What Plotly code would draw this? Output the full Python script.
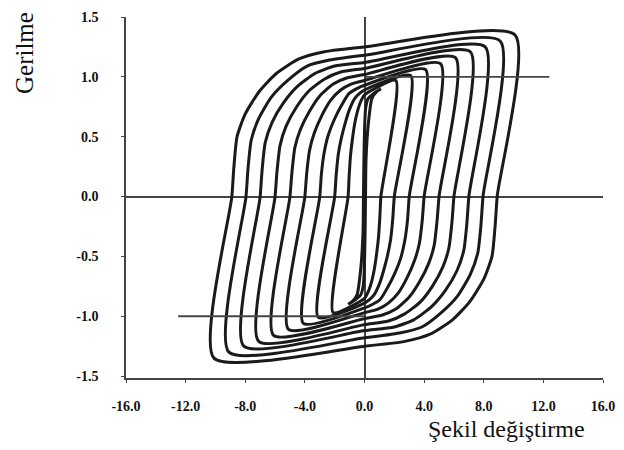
import plotly.graph_objects as go

# ---- axis ticks -------------------------------------------------------
x_tick_vals = [-16, -12, -8, -4, 0, 4, 8, 12, 16]
x_tick_text = ["-16.0", "-12.0", "-8.0", "-4.0", "0.0", "4.0", "8.0", "12.0", "16.0"]
y_tick_vals = [-1.5, -1.0, -0.5, 0.0, 0.5, 1.0, 1.5]
y_tick_text = ["-1.5", "-1.0", "-0.5", "0.0", "0.5", "1.0", "1.5"]

# ---- descending branches of the hysteresis loops (outer -> inner) ----
# each runs from the upper-right tip, along the top band, through the knee,
# across zero, down to the lower-left tip. Ascending branch = point mirror.
desc_x = [
    [10.1, 0.0, -2.7, -4.4, -5.9, -7.05, -8.0, -8.55, -8.76, -8.9, -10.1],
    [9.1, 0.0, -2.35, -3.85, -5.15, -6.25, -7.1, -7.6, -7.81, -7.95, -9.1],
    [8.1, 0.0, -2.0, -3.3, -4.5, -5.45, -6.2, -6.66, -6.87, -7.0, -8.1],
    [7.1, 0.0, -1.6, -2.7, -3.75, -4.55, -5.25, -5.66, -5.87, -6.0, -7.1],
    [6.1, 0.0, -1.2, -2.1, -3.0, -3.7, -4.3, -4.67, -4.87, -5.0, -6.1],
    [5.1, 0.0, -0.9, -1.6, -2.3, -2.85, -3.37, -3.68, -3.88, -4.0, -5.1],
    [4.1, 0.0, -0.55, -1.05, -1.55, -2.0, -2.44, -2.7, -2.89, -3.0, -4.1],
    [3.1, 0.0, -0.35, -0.65, -1.0, -1.28, -1.55, -1.75, -1.9, -2.0, -3.1],
    [2.1, 0.0, -0.15, -0.3, -0.5, -0.67, -0.82, -0.94, -1.03, -1.1, -2.1],
    [1.1, 0.6, 0.25, 0.08, 0.0, -0.04, -0.07, -0.1, -0.25, -0.5, -0.85, -1.1],
]
desc_y = [
    [1.35, 1.25, 1.21, 1.15, 1.03, 0.88, 0.69, 0.50, 0.25, 0.0, -1.35],
    [1.30, 1.18, 1.14, 1.09, 0.97, 0.83, 0.65, 0.47, 0.24, 0.0, -1.30],
    [1.25, 1.12, 1.09, 1.03, 0.92, 0.78, 0.62, 0.45, 0.22, 0.0, -1.25],
    [1.21, 1.07, 1.04, 0.98, 0.88, 0.75, 0.59, 0.43, 0.21, 0.0, -1.21],
    [1.16, 1.02, 0.99, 0.94, 0.84, 0.71, 0.56, 0.41, 0.20, 0.0, -1.16],
    [1.11, 0.97, 0.94, 0.89, 0.80, 0.68, 0.53, 0.39, 0.19, 0.0, -1.11],
    [1.06, 0.93, 0.90, 0.86, 0.76, 0.65, 0.51, 0.37, 0.19, 0.0, -1.06],
    [1.01, 0.89, 0.86, 0.82, 0.73, 0.62, 0.49, 0.36, 0.18, 0.0, -1.01],
    [0.97, 0.85, 0.82, 0.78, 0.70, 0.60, 0.47, 0.34, 0.17, 0.0, -0.97],
    [0.90, 0.86, 0.82, 0.74, 0.55, 0.30, 0.0, -0.30, -0.60, -0.82, -0.88, -0.90],
]

# ---- reference lines at +/-1.0 ----------------------------------------
ref_hi_x = [0.0, 12.4]
ref_hi_y = [1.0, 1.0]
ref_lo_x = [-12.5, 0.0]
ref_lo_y = [-1.0, -1.0]

INK = "#1a1a1a"
AXC = "#444444"
SERIF = "Liberation Serif"

# page shows the figure offset by the default 8px body margin
L, R, T, B = 118, 29, 9, 80
PW, PH = 624 - L - R, 450 - T - B


def px_to_paper(px, py):
    return (px - 8 - L) / PW, (450 - B - (py - 8)) / PH


fig = go.Figure()

for xs, ys in zip(desc_x, desc_y):
    loop_x = xs + [-v for v in xs[1:]]
    loop_y = ys + [-v for v in ys[1:]]
    fig.add_trace(go.Scatter(
        x=loop_x, y=loop_y, mode="lines",
        line=dict(color=INK, width=3.0, shape="spline", smoothing=0.6),
        showlegend=False, hoverinfo="skip"))

for rx, ry in ((ref_hi_x, ref_hi_y), (ref_lo_x, ref_lo_y)):
    fig.add_trace(go.Scatter(
        x=rx, y=ry, mode="lines",
        line=dict(color=AXC, width=1.8),
        showlegend=False, hoverinfo="skip"))

tickfont = dict(family=SERIF, size=14, color="#111", weight="bold")

xt_x, xt_y = px_to_paper(506, 429)
yt_x, yt_y = px_to_paper(24, 53)

fig.update_layout(
    width=624, height=450,
    margin=dict(l=L, r=R, t=T, b=B, autoexpand=False),
    paper_bgcolor="white", plot_bgcolor="white",
    xaxis=dict(
        range=[-16, 16], tickvals=x_tick_vals, ticktext=x_tick_text,
        showgrid=False, zeroline=True, zerolinecolor=AXC, zerolinewidth=1.6,
        showline=True, linecolor=AXC, linewidth=1.6,
        ticks="outside", ticklen=3, tickcolor=AXC, tickwidth=1.2,
        ticklabelstandoff=11, tickfont=tickfont, automargin=False,
        ticklabeloverflow="allow",
    ),
    yaxis=dict(
        range=[-1.516, 1.5], tickvals=y_tick_vals, ticktext=y_tick_text,
        showgrid=False, zeroline=True, zerolinecolor=AXC, zerolinewidth=1.6,
        showline=True, linecolor=AXC, linewidth=1.6,
        ticks="outside", ticklen=3, tickcolor=AXC, tickwidth=1.2,
        ticklabelstandoff=20, tickfont=tickfont, automargin=False,
        ticklabeloverflow="allow",
    ),
    annotations=[
        dict(text="Şekil değiştirme", xref="paper", yref="paper",
             x=xt_x, y=xt_y, xanchor="center", yanchor="middle",
             showarrow=False, font=dict(family=SERIF, size=24, color="#111")),
        dict(text="Gerilme", xref="paper", yref="paper",
             x=yt_x, y=yt_y, textangle=-90,
             xanchor="center", yanchor="middle", showarrow=False,
             font=dict(family=SERIF, size=25, color="#111")),
    ],
)

fig.write_html("out.html")
